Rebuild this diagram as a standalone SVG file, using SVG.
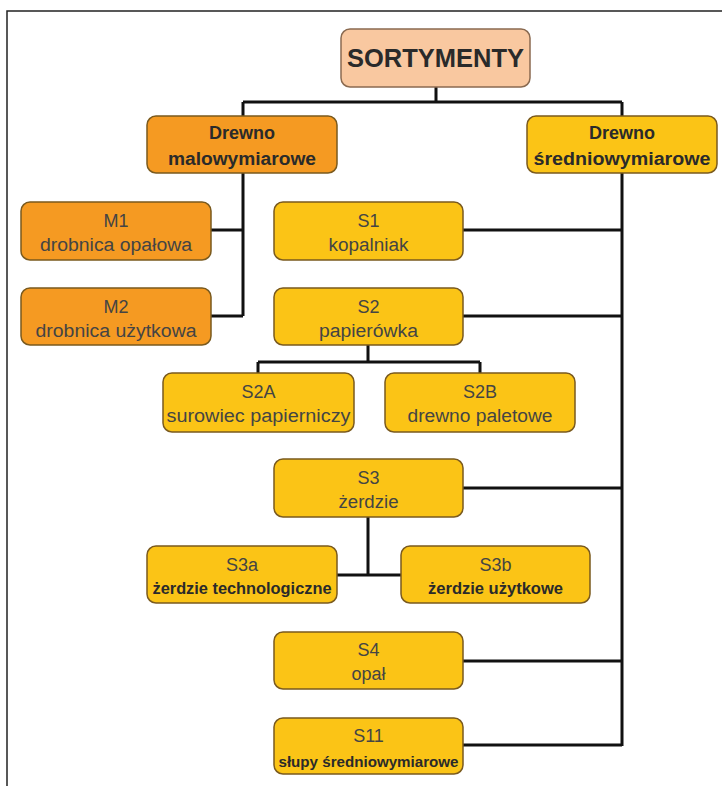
<svg xmlns="http://www.w3.org/2000/svg" width="722" height="786" viewBox="0 0 722 786">
<style>
.frame{fill:none;stroke:#222;stroke-width:1.5}
.box{stroke:#7a5a1e;stroke-width:1.5}
.peach{fill:#F9C8A0;stroke:#8a6a50}
.orange{fill:#F59A22}
.yellow{fill:#FBC416}
.t{font-family:"Liberation Sans",Arial,sans-serif;font-size:18px;fill:#444;text-anchor:middle}
.b{font-family:"Liberation Sans",Arial,sans-serif;font-weight:bold;fill:#2a2a2a;text-anchor:middle}
.c{fill:none;stroke:#111;stroke-width:3}
</style>
<rect width="722" height="786" fill="#fff"/>
<path class="frame" d="M7,786 V11 H722"/>
<g id="connectors">
<path class="c" d="M436,87 V102 M243,102 H622 M243,102 V116 M622,102 V116"/>
<path class="c" d="M243,173 V316 M211,230 H243 M211,316 H243"/>
<path class="c" d="M622,173 V746 M463,230 H622 M463,316 H622 M463,488 H622 M463,661 H622 M463,745 H622"/>
<path class="c" d="M368,345 V362 M258,362 H480 M258,362 V373 M480,362 V373"/>
<path class="c" d="M368,517 V575 M337,575 H401"/>
</g>
<g id="sortymenty"><rect class="box peach" x="341" y="29" width="189" height="58" rx="9"/><text class="b" x="435.5" y="67" font-size="25" textLength="177" lengthAdjust="spacingAndGlyphs">SORTYMENTY</text></g>
<g id="malo"><rect class="box orange" x="147" y="116" width="190" height="57" rx="9"/><text class="b" x="242" y="139" font-size="18">Drewno</text><text class="b" x="242" y="165" font-size="18" textLength="148" lengthAdjust="spacingAndGlyphs">malowymiarowe</text></g>
<g id="sredni"><rect class="box yellow" x="527" y="116" width="190" height="57" rx="9"/><text class="b" x="622" y="139" font-size="18">Drewno</text><text class="b" x="622" y="165" font-size="18" textLength="177" lengthAdjust="spacingAndGlyphs">średniowymiarowe</text></g>
<g id="m1"><rect class="box orange" x="21" y="202" width="190" height="58" rx="9"/><text class="t" x="116" y="227">M1</text><text class="t" x="116" y="251" textLength="152" lengthAdjust="spacingAndGlyphs">drobnica opałowa</text></g>
<g id="m2"><rect class="box orange" x="21" y="288" width="190" height="57" rx="9"/><text class="t" x="116" y="313">M2</text><text class="t" x="116" y="337" textLength="161" lengthAdjust="spacingAndGlyphs">drobnica użytkowa</text></g>
<g id="s1"><rect class="box yellow" x="274" y="202" width="189" height="58" rx="9"/><text class="t" x="368.5" y="227">S1</text><text class="t" x="368.5" y="251" textLength="80" lengthAdjust="spacingAndGlyphs">kopalniak</text></g>
<g id="s2"><rect class="box yellow" x="274" y="288" width="189" height="57" rx="9"/><text class="t" x="368.5" y="313">S2</text><text class="t" x="368.5" y="337" textLength="99" lengthAdjust="spacingAndGlyphs">papierówka</text></g>
<g id="s2a"><rect class="box yellow" x="163" y="373" width="191" height="59" rx="9"/><text class="t" x="258.5" y="398">S2A</text><text class="t" x="258.5" y="422" textLength="184" lengthAdjust="spacingAndGlyphs">surowiec papierniczy</text></g>
<g id="s2b"><rect class="box yellow" x="385" y="373" width="190" height="59" rx="9"/><text class="t" x="480" y="398">S2B</text><text class="t" x="480" y="422" textLength="145" lengthAdjust="spacingAndGlyphs">drewno paletowe</text></g>
<g id="s3"><rect class="box yellow" x="274" y="459" width="189" height="58" rx="9"/><text class="t" x="368.5" y="484">S3</text><text class="t" x="368.5" y="508" textLength="60" lengthAdjust="spacingAndGlyphs">żerdzie</text></g>
<g id="s3a"><rect class="box yellow" x="147" y="546" width="190" height="57" rx="9"/><text class="t" x="242" y="571">S3a</text><text class="b" x="242" y="594" font-size="16" textLength="179" lengthAdjust="spacingAndGlyphs">żerdzie technologiczne</text></g>
<g id="s3b"><rect class="box yellow" x="401" y="546" width="189" height="57" rx="9"/><text class="t" x="495.5" y="571">S3b</text><text class="b" x="495.5" y="594" font-size="16" textLength="135" lengthAdjust="spacingAndGlyphs">żerdzie użytkowe</text></g>
<g id="s4"><rect class="box yellow" x="274" y="632" width="189" height="57" rx="9"/><text class="t" x="368.5" y="656">S4</text><text class="t" x="368.5" y="680">opał</text></g>
<g id="s11"><rect class="box yellow" x="274" y="718" width="189" height="56" rx="9"/><text class="t" x="368.5" y="742">S11</text><text class="b" x="368.5" y="767" font-size="15" textLength="180" lengthAdjust="spacingAndGlyphs">słupy średniowymiarowe</text></g>
</svg>
